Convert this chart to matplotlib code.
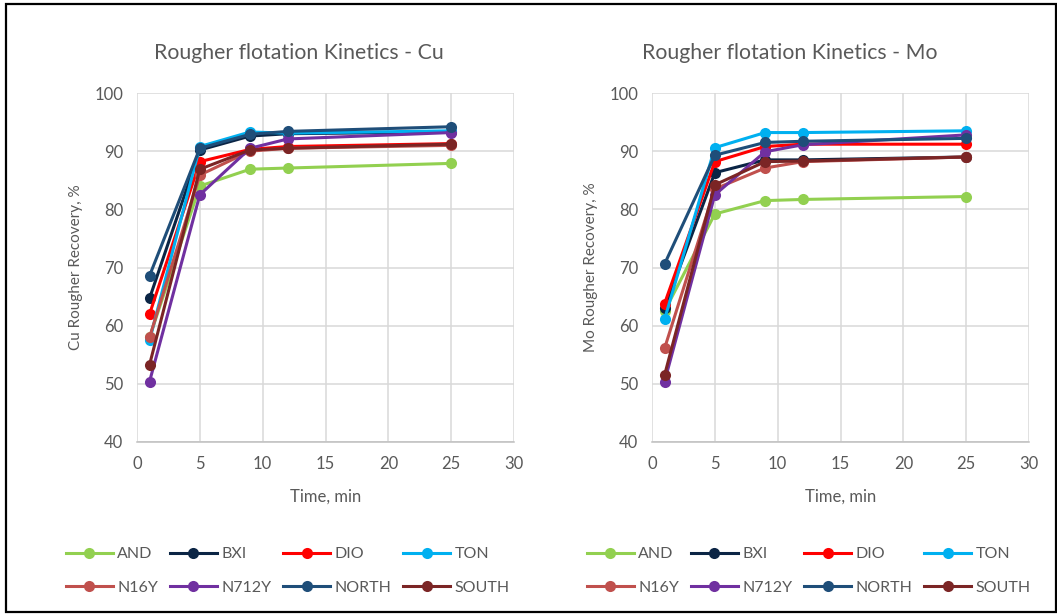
import matplotlib
matplotlib.use("Agg")
import matplotlib.pyplot as plt
from matplotlib.lines import Line2D
from matplotlib.patches import Rectangle

plt.rcParams['font.family'] = ['Lato', 'DejaVu Sans']

# Flotation time, min
time_min = [1, 5, 9, 12, 25]

series_names = ["AND", "BXI", "DIO", "TON", "N16Y", "N712Y", "NORTH", "SOUTH"]
series_colors = ["#92D050", "#0B2545", "#FF0000", "#00B0F0",
                 "#C0504D", "#7030A0", "#1F4E79", "#7B2525"]

# Cu rougher recovery, %
cu_and = [58.0, 84.0, 86.9, 87.1, 87.9]
cu_bxi = [64.7, 90.2, 92.6, 93.0, 93.3]
cu_dio = [62.0, 88.2, 90.3, 90.8, 91.3]
cu_ton = [57.5, 90.8, 93.3, 93.1, 93.5]
cu_n16y = [58.0, 85.9, 90.0, 90.5, 91.0]
cu_n712y = [50.4, 82.5, 90.5, 92.1, 93.2]
cu_north = [68.6, 90.5, 92.9, 93.4, 94.2]
cu_south = [53.3, 86.9, 90.2, 90.5, 91.2]

# Mo rougher recovery, %
mo_and = [62.5, 79.2, 81.5, 81.7, 82.2]
mo_bxi = [63.0, 86.3, 88.5, 88.5, 89.0]
mo_dio = [63.8, 88.2, 90.8, 91.2, 91.2]
mo_ton = [61.1, 90.6, 93.2, 93.2, 93.5]
mo_n16y = [56.1, 83.5, 87.1, 88.2, 89.0]
mo_n712y = [50.4, 82.5, 89.9, 91.1, 92.8]
mo_north = [70.6, 89.3, 91.5, 91.7, 92.2]
mo_south = [51.5, 84.2, 88.2, 88.3, 89.0]

cu_series = [cu_and, cu_bxi, cu_dio, cu_ton, cu_n16y, cu_n712y, cu_north, cu_south]
mo_series = [mo_and, mo_bxi, mo_dio, mo_ton, mo_n16y, mo_n712y, mo_north, mo_south]

x_ticks = [0, 5, 10, 15, 20, 25, 30]
y_ticks = [40, 50, 60, 70, 80, 90, 100]

W, H = 1057, 616
fig = plt.figure(figsize=(W / 100, H / 100), dpi=100)
fig.patch.set_facecolor("white")

text_gray = "#595959"
grid_gray = "#D9D9D9"

# legend fills column by column; reorder so entries read row by row
n_cols = 4
n_rows = 2
legend_order = [r * n_cols + c for c in range(n_cols) for r in range(n_rows)]


def draw_panel(left_px, series, title, title_center_px, ylabel, legend_center_px):
    ax = fig.add_axes([left_px / W, 1 - 442 / H, 377 / W, 349 / H])
    for vals, name, col in zip(series, series_names, series_colors):
        ax.plot(time_min, vals, color=col, lw=2.2, marker="o", ms=8,
                markeredgewidth=0, label=name)
    ax.set_xlim(0, 30)
    ax.set_ylim(40, 100)
    ax.set_xticks(x_ticks)
    ax.set_yticks(y_ticks)
    ax.grid(True, color=grid_gray, lw=1.1)
    ax.set_axisbelow(True)
    for side in ["top", "right", "left"]:
        ax.spines[side].set_visible(False)
    ax.spines["bottom"].set_color("#BFBFBF")
    ax.spines["bottom"].set_linewidth(1.1)
    ax.tick_params(length=0, colors=text_gray, labelsize=12, pad=10)
    ax.set_xlabel("Time, min", color=text_gray, fontsize=12, labelpad=12)
    ax.set_ylabel(ylabel, color=text_gray, fontsize=11, labelpad=8)
    fig.text(title_center_px / W, 1 - 53 / H, title, color=text_gray,
             fontsize=15.3, ha="center", va="center")

    handles = [Line2D([], [], color=c, lw=2.2, marker="o", ms=8,
                      markeredgewidth=0) for c in series_colors]
    fig.legend([handles[i] for i in legend_order],
               [series_names[i] for i in legend_order], loc="center",
               bbox_to_anchor=(legend_center_px / W, 1 - 571 / H),
               ncol=n_cols, frameon=False, fontsize=11.5, handlelength=2.9,
               handletextpad=0.3, columnspacing=0.75, labelspacing=1.2,
               labelcolor=text_gray)
    return ax


draw_panel(137, cu_series, "Rougher flotation Kinetics - Cu", 299,
           "Cu Rougher Recovery, %", 288)
draw_panel(652, mo_series, "Rougher flotation Kinetics - Mo", 790,
           "Mo Rougher Recovery, %", 809)

# Outer frame
fig.add_artist(Rectangle((6 / W, 4 / H), (W - 7) / W, (H - 8) / H,
                         transform=fig.transFigure, fill=False,
                         edgecolor="black", lw=1.6))

fig.savefig("out.png", dpi=100, facecolor="white")
